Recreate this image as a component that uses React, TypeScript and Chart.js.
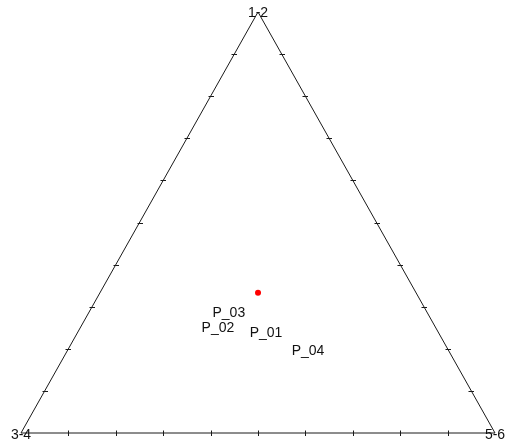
import React, { useEffect, useRef } from "react";
import { Chart, registerables } from "chart.js";

Chart.register(...registerables);

// Corner labels of the ternary diagram: top, bottom-left, bottom-right
const cornerLabels = ["1-2", "3-4", "5-6"];

// Sample compositions (fractions of top, left, right component)
const sampleNames = ["P_01", "P_02", "P_03", "P_04"];
const topShare = [0.238, 0.249, 0.285, 0.195];
const leftShare = [0.364, 0.46, 0.419, 0.297];
const rightShare = [0.398, 0.291, 0.296, 0.508];

// Centre marker (equal thirds)
const centreTop = [0.3333];
const centreLeft = [0.3333];
const centreRight = [0.3334];

const tickCount = 10;

// Map a composition to the plot plane: x runs left->right, y runs bottom->top
const toXY = (a: number, b: number, c: number) => {
  const s = a + b + c;
  const ta = a / s;
  const tc = c / s;
  return { x: tc + ta / 2, y: ta };
};

const ternaryPlugin = {
  id: "ternaryFrame",
  afterDatasetsDraw(chart: any) {
    const { ctx, scales } = chart;
    const xs = scales.x;
    const ys = scales.y;
    const px = (x: number) => xs.getPixelForValue(x);
    const py = (y: number) => ys.getPixelForValue(y);
    const top = { x: px(0.5), y: py(1) };
    const bl = { x: px(0), y: py(0) };
    const br = { x: px(1), y: py(0) };

    ctx.save();
    ctx.strokeStyle = "#1a1a1a";
    ctx.lineWidth = 1;
    ctx.beginPath();
    ctx.moveTo(top.x, top.y);
    ctx.lineTo(bl.x, bl.y);
    ctx.lineTo(br.x, br.y);
    ctx.closePath();
    ctx.stroke();

    // edge ticks
    ctx.beginPath();
    for (let i = 1; i < tickCount; i++) {
      const f = i / tickCount;
      // left edge
      const lx = bl.x + (top.x - bl.x) * f;
      const ly = bl.y + (top.y - bl.y) * f;
      ctx.moveTo(Math.round(lx) - 2.5, Math.round(ly) + 0.5);
      ctx.lineTo(Math.round(lx) + 3, Math.round(ly) + 0.5);
      // right edge
      const rx = br.x + (top.x - br.x) * f;
      const ry = br.y + (top.y - br.y) * f;
      ctx.moveTo(Math.round(rx) - 2.5, Math.round(ry) + 0.5);
      ctx.lineTo(Math.round(rx) + 3, Math.round(ry) + 0.5);
      // bottom edge
      const bx = bl.x + (br.x - bl.x) * f;
      ctx.moveTo(Math.round(bx) + 0.5, bl.y - 2.5);
      ctx.lineTo(Math.round(bx) + 0.5, bl.y + 3);
    }
    ctx.stroke();

    ctx.fillStyle = "#111";
    ctx.font = "14px 'Liberation Sans', Arial, sans-serif";
    ctx.textAlign = "center";
    ctx.textBaseline = "middle";
    ctx.fillText(cornerLabels[0], top.x, top.y + 1);
    ctx.fillText(cornerLabels[1], bl.x, bl.y + 2);
    ctx.fillText(cornerLabels[2], br.x, br.y + 2);

    // sample names at their compositions
    const meta = chart.getDatasetMeta(0);
    meta.data.forEach((pt: any, i: number) => {
      ctx.fillText(sampleNames[i], pt.x, pt.y);
    });
    ctx.restore();
  },
};

export default function App() {
  const ref = useRef<HTMLCanvasElement | null>(null);

  useEffect(() => {
    if (!ref.current) return;
    const samples = sampleNames.map((_, i) =>
      toXY(topShare[i], leftShare[i], rightShare[i])
    );
    const centre = centreTop.map((_, i) =>
      toXY(centreTop[i], centreLeft[i], centreRight[i])
    );
    const chart = new Chart(ref.current, {
      type: "scatter",
      data: {
        datasets: [
          {
            label: "samples",
            data: samples,
            pointRadius: 0,
            pointHoverRadius: 0,
          },
          {
            label: "centre",
            data: centre,
            pointRadius: 3,
            pointBackgroundColor: "#ff0000",
            pointBorderColor: "#ff0000",
            pointBorderWidth: 0,
          },
        ],
      },
      options: {
        animation: false,
        responsive: false,
        maintainAspectRatio: false,
        layout: { padding: { left: 21, right: 20, top: 12, bottom: 15 } },
        plugins: {
          legend: { display: false },
          tooltip: { enabled: false },
        },
        scales: {
          x: { type: "linear", min: 0, max: 1, display: false },
          y: { type: "linear", min: 0, max: 1, display: false },
        },
      },
      plugins: [ternaryPlugin],
    });
    return () => chart.destroy();
  }, []);

  return (
    <div style={{ position: "fixed", left: 0, top: 0, width: 515, height: 448, background: "#fff" }}>
      <canvas ref={ref} width={515} height={448} style={{ display: "block" }} />
    </div>
  );
}
